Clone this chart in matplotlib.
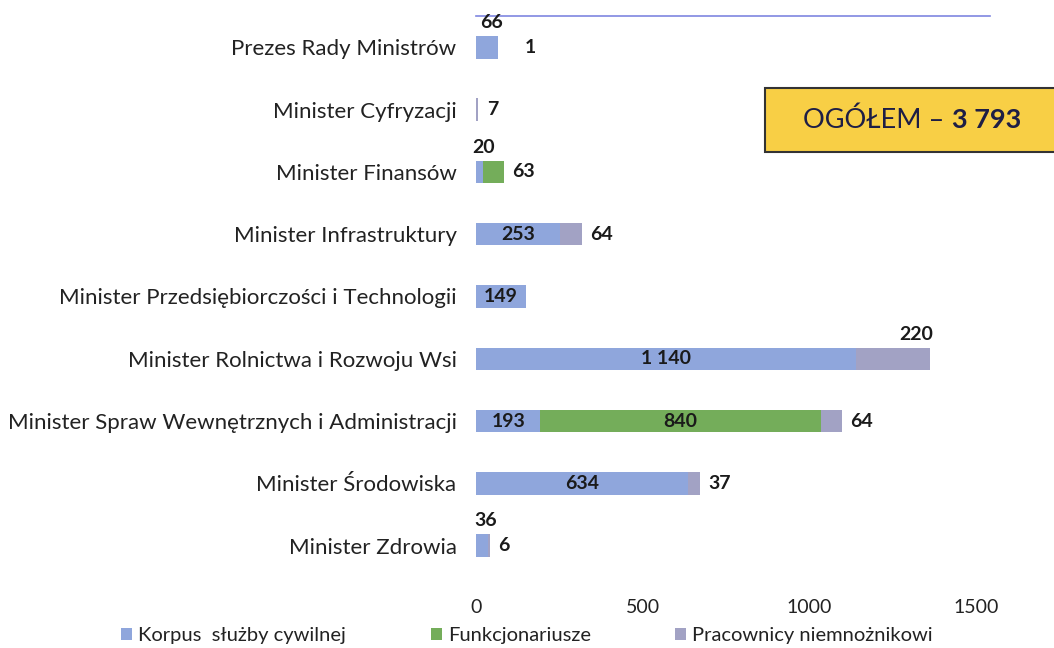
import numpy as np
import matplotlib.pyplot as plt
from matplotlib.patches import Rectangle

plt.rcParams['font.family'] = ['Lato', 'DejaVu Sans']

categories = [
    "Prezes Rady Ministrów",
    "Minister Cyfryzacji",
    "Minister Finansów",
    "Minister Infrastruktury",
    "Minister Przedsiębiorczości i Technologii",
    "Minister Rolnictwa i Rozwoju Wsi",
    "Minister Spraw Wewnętrznych i Administracji",
    "Minister Środowiska",
    "Minister Zdrowia",
]
korpus = [66, 0, 20, 253, 149, 1140, 193, 634, 36]
funkcjonariusze = [0, 0, 63, 0, 0, 0, 840, 0, 0]
pracownicy = [1, 7, 0, 64, 0, 220, 64, 37, 6]
series_names = ["Korpus  służby cywilnej", "Funkcjonariusze", "Pracownicy niemnożnikowi"]
total = 3793

colors = ["#8fa6dc", "#74ad5a", "#a2a2c4"]

fig = plt.figure(figsize=(10.54, 6.48), dpi=100)
ax = fig.add_axes([0.4516, 0.110, 0.4875, 0.865])

y = np.arange(len(categories))
k = np.array(korpus)
f = np.array(funkcjonariusze)
p = np.array(pracownicy)
h = 0.36
ax.barh(y, k, height=h, color=colors[0], label=series_names[0])
ax.barh(y, f, left=k, height=h, color=colors[1], label=series_names[1])
ax.barh(y, p, left=k + f, height=h, color=colors[2], label=series_names[2])

ax.set_xlim(0, 1540)
ax.set_ylim(len(categories) - 0.5, -0.5)
ax.set_yticks(y)
ax.set_yticklabels(categories, fontsize=16, color="#222222")
ax.set_xticks([0, 500, 1000, 1500])
ax.tick_params(axis='y', length=0, pad=14)
ax.tick_params(axis='x', length=0, pad=16, labelsize=14, labelcolor="#222222")
for s in ["left", "right", "bottom"]:
    ax.spines[s].set_visible(False)
ax.spines["top"].set_color("#7f86e0")
ax.spines["top"].set_linewidth(1.2)

lab = dict(fontsize=14, fontweight='bold', color="#1a1a1a")
for i in range(len(categories)):
    ends = k[i] + f[i] + p[i]
    # korpus values
    if k[i] >= 100:
        ax.text(k[i] / 2, i, f"{k[i]:,}".replace(",", " "), ha='center', va='center', **lab)
    elif k[i] > 0:
        ax.text(k[i] / 2 + 12, i - 0.26, str(k[i]), ha='center', va='bottom', **lab)
    # funkcjonariusze values
    if f[i] >= 100:
        ax.text(k[i] + f[i] / 2, i, str(f[i]), ha='center', va='center', **lab)
    elif f[i] > 0:
        ax.text(ends + 25, i, str(f[i]), ha='left', va='center', **lab)
    # pracownicy values
    if p[i] >= 200:
        ax.text(ends + 10, i - 0.26, str(p[i]), ha='right', va='bottom', **lab)
    elif p[i] > 0:
        off = 80 if p[i] < 3 else 25
        ax.text(ends + off, i, str(p[i]), ha='left', va='center', **lab)

# total box
fig.patches.append(Rectangle((0.726, 0.766), 0.30, 0.098, transform=fig.transFigure,
                             facecolor="#f8cf45", edgecolor="#333333", linewidth=1.5))
t1 = fig.text(0.762, 0.815, "OGÓŁEM – ", fontsize=19.5, color="#1e1e45", va='center', ha='left')
fig.add_artist(plt.Annotation(f"{total:,}".replace(",", " "), xy=(1, 0.5), xycoords=t1,
                              fontsize=19.5, fontweight='bold', color="#1e1e45",
                              va='center', ha='left'))

fig.legend(loc='lower center', bbox_to_anchor=(0.5, -0.022), ncol=3, frameon=False,
           fontsize=14.5, handlelength=0.55, handleheight=0.55, handletextpad=0.3,
           columnspacing=4.2, labelcolor="#222222")

fig.savefig("out.png", dpi=100)
